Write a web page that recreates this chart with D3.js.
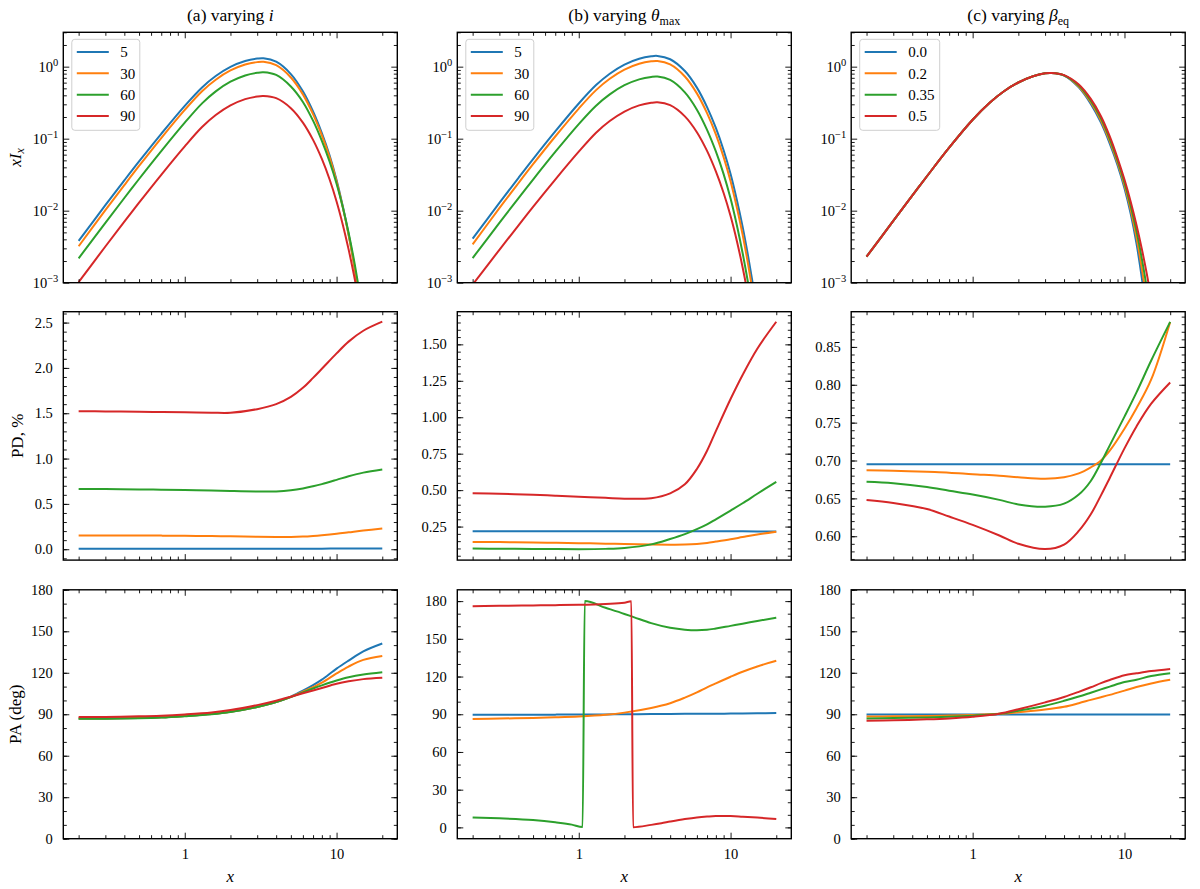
<!DOCTYPE html>
<html>
<head>
<meta charset="utf-8">
<script src="https://cdn.jsdelivr.net/npm/d3@7"></script>
<style>
  body { margin: 0; background: #fff; }
  svg text { font-family: "Liberation Serif", "DejaVu Serif", serif; fill: #000; }
</style>
</head>
<body>
<svg id="fig" width="1200" height="889"></svg>
<script>
var colors = ["#1f77b4", "#ff7f0e", "#2ca02c", "#d62728"];
var labelsA = ["5", "30", "60", "90"];
var labelsB = ["5", "30", "60", "90"];
var labelsC = ["0.0", "0.2", "0.35", "0.5"];

// spectra x I_x
var xSpec = [0.2,0.3,0.4,0.5,0.7,1,1.3,1.6,2,2.5,3,3.3,4,5,6,7,8,9,10,11,12,13,14,15];
var specA5  = [3.80e-3,0.01191,0.02636,0.04831,0.1169,0.2858,0.5152,0.7413,0.9931,1.197,1.294,1.309,1.172,0.7889,0.4539,0.2382,0.1194,0.05848,0.02673,0.0114,4.70e-3,1.88e-3,7.35e-4,2.81e-4];
var specA30 = [3.21e-3,0.01016,0.02265,0.04178,0.1021,0.2512,0.4560,0.6592,0.8851,1.069,1.156,1.169,1.047,0.7079,0.4121,0.2188,0.1109,0.05495,0.02541,0.01102,4.59e-3,1.85e-3,7.24e-4,2.79e-4];
var specA60 = [2.18e-3,6.78e-3,0.0150,0.02754,0.06714,0.1667,0.3090,0.4539,0.6180,0.7551,0.8222,0.8356,0.7674,0.5309,0.3236,0.1778,0.0933,0.04786,0.02371,0.01109,4.95e-3,2.11e-3,8.5e-4,3.4e-4];
var specA90 = [1.02e-3,3.18e-3,7.03e-3,0.01291,0.03148,0.07816,0.1449,0.2128,0.2897,0.3540,0.3855,0.3917,0.3648,0.2649,0.1671,0.0962,0.05224,0.0271,0.01343,6.35e-3,2.90e-3,1.30e-3,5.66e-4,2.42e-4];

var specB5  = [4.09e-3,0.01282,0.02838,0.0520,0.1259,0.3076,0.5546,0.7980,1.069,1.288,1.393,1.409,1.268,0.8690,0.5117,0.2748,0.1409,0.06902,0.03228,0.01409,6.01e-3,2.45e-3,9.75e-4,3.79e-4];
var specB30 = [3.40e-3,0.01084,0.02404,0.04416,0.1072,0.2618,0.4721,0.6792,0.9099,1.096,1.186,1.2,1.076,0.7311,0.4256,0.2259,0.1146,0.05546,0.02564,0.01107,4.67e-3,1.88e-3,7.4e-4,2.88e-4];
var specB60 = [2.20e-3,6.76e-3,0.01486,0.0271,0.06546,0.1596,0.2871,0.4130,0.5534,0.6668,0.7211,0.7295,0.6531,0.4395,0.2529,0.1327,0.06653,0.03221,0.01472,6.28e-3,2.59e-3,1.03e-3,4.01e-4,1.52e-4];
var specB90 = [9.40e-4,2.86e-3,6.22e-3,0.0113,0.02704,0.06592,0.1208,0.1758,0.2382,0.2897,0.3148,0.3199,0.2917,0.2042,0.1230,0.06761,0.03508,0.01758,8.41e-3,3.80e-3,1.64e-3,6.84e-4,2.72e-4,1.06e-4];

var specC00  = [2.30e-3,7.21e-3,0.01614,0.03006,0.07499,0.1832,0.3177,0.4519,0.6026,0.7362,0.8072,0.8166,0.7534,0.5152,0.3034,0.1667,0.0855,0.04285,0.0205,8.95e-3,3.48e-3,1.18e-3,3.56e-4,1.0e-4];
var specC02  = [2.30e-3,7.21e-3,0.01614,0.03006,0.07499,0.1832,0.3177,0.4519,0.6026,0.7362,0.8072,0.8166,0.7568,0.5309,0.3199,0.1786,0.09226,0.04624,0.02249,0.01021,4.26e-3,1.60e-3,5.56e-4,1.82e-4];
var specC035 = [2.30e-3,7.21e-3,0.01614,0.03006,0.07499,0.1832,0.3177,0.4519,0.6026,0.7362,0.8072,0.8166,0.7586,0.5483,0.3373,0.1914,0.09954,0.04989,0.02466,0.01161,5.2e-3,2.18e-3,8.69e-4,3.33e-4];
var specC05  = [2.30e-3,7.21e-3,0.01614,0.03006,0.07499,0.1832,0.3177,0.4519,0.6026,0.7362,0.8072,0.8166,0.7621,0.5649,0.3565,0.2051,0.1076,0.05395,0.02704,0.01324,6.34e-3,2.96e-3,1.36e-3,6.05e-4];

// polarization degree and angle
var xPol = [0.2,0.3,0.5,0.7,1,1.5,2,3,4,5,6,7,8,10,12,15,20];
var pdA5  = [0.005,0.005,0.005,0.005,0.005,0.005,0.005,0.005,0.005,0.005,0.006,0.006,0.006,0.007,0.007,0.008,0.008];
var pdA30 = [0.152,0.152,0.151,0.150,0.148,0.145,0.143,0.138,0.135,0.135,0.139,0.146,0.154,0.170,0.186,0.206,0.228];
var pdA60 = [0.665,0.664,0.660,0.657,0.653,0.647,0.642,0.637,0.638,0.650,0.670,0.694,0.718,0.765,0.805,0.845,0.879];
var pdA90 = [1.522,1.520,1.516,1.513,1.510,1.506,1.505,1.545,1.600,1.680,1.780,1.890,1.990,2.160,2.290,2.410,2.510];

var pdB5  = [0.218,0.218,0.218,0.218,0.218,0.218,0.218,0.218,0.218,0.218,0.218,0.218,0.218,0.218,0.218,0.217,0.217];
var pdB30 = [0.145,0.144,0.141,0.139,0.136,0.133,0.130,0.127,0.126,0.127,0.131,0.138,0.147,0.163,0.178,0.196,0.215];
var pdB60 = [0.099,0.098,0.097,0.096,0.095,0.097,0.103,0.128,0.165,0.198,0.232,0.265,0.300,0.360,0.410,0.475,0.557];
var pdB90 = [0.479,0.475,0.468,0.462,0.455,0.447,0.441,0.445,0.478,0.540,0.645,0.770,0.905,1.125,1.290,1.470,1.655];

var pdC00  = [0.695,0.695,0.695,0.695,0.695,0.695,0.695,0.695,0.695,0.695,0.695,0.695,0.695,0.695,0.695,0.695,0.695];
var pdC02  = [0.687,0.6865,0.685,0.684,0.682,0.680,0.678,0.676,0.678,0.683,0.691,0.700,0.713,0.742,0.769,0.807,0.883];
var pdC035 = [0.672,0.670,0.665,0.660,0.655,0.648,0.642,0.639,0.643,0.655,0.673,0.697,0.720,0.758,0.790,0.832,0.883];
var pdC05  = [0.648,0.644,0.636,0.626,0.615,0.601,0.590,0.583,0.589,0.607,0.629,0.654,0.677,0.716,0.745,0.775,0.803];

var paA5  = [86.9,87.0,87.3,87.8,88.8,90.2,91.8,95.3,98.8,102.8,107.0,111.0,115.0,123.0,128.8,135.5,141.2];
var paA30 = [86.9,87.0,87.3,87.8,88.8,90.2,91.8,95.3,98.8,102.6,106.3,109.6,112.8,119.5,124.5,129.3,132.2];
var paA60 = [86.7,86.8,87.1,87.6,88.6,90.0,91.6,95.2,98.8,102.4,105.8,108.6,110.9,114.4,116.8,118.8,120.4];
var paA90 = [88.0,88.1,88.5,89.0,89.9,91.3,93.0,96.6,99.8,102.7,105.2,107.2,109.0,112.0,113.8,115.4,116.4];

var paB5  = [89.6,89.6,89.7,89.7,89.8,89.9,90.0,90.1,90.2,90.3,90.3,90.4,90.4,90.5,90.6,90.7,90.9];
var paB30 = [86.3,86.6,87.1,87.6,88.3,89.6,91.3,95.0,98.8,103.2,107.4,111.4,114.6,119.8,123.8,128.0,132.5];
var xPaB60 = [0.2,0.3,0.5,0.7,0.9,1.06,1.095,1.5,2,2.3,3,4,5,6,7,8,10,12,15,20];
var paB60  = [7.9,7.2,5.8,4.0,2.2,0.3,180,174.7,169.8,167.3,162.5,158.8,157.3,156.9,157.2,158.2,160.3,162.0,164.2,166.8];
var xPaB90 = [0.2,0.3,0.5,0.7,1,1.5,2,2.22,2.28,3,3.5,4,5,6,7,8,10,12,15,20];
var paB90  = [176.0,176.3,176.6,176.8,177.1,177.8,178.7,179.8,0.2,2.0,3.3,4.6,6.6,7.9,8.6,9.0,9.0,8.5,7.8,6.6];

var paC00  = [89.9,89.9,89.9,89.9,89.9,89.9,89.9,89.9,89.9,89.9,89.9,89.9,89.9,89.9,89.9,89.9,89.9];
var paC02  = [88.4,88.5,88.8,89.1,89.5,90.3,91.5,93.4,95.4,98.0,100.4,102.3,104.0,107.1,109.7,112.3,114.9];
var paC035 = [87.0,87.2,87.7,88.2,89.0,90.4,92.6,96.2,99.7,102.8,105.6,108.0,110.0,113.3,115.0,117.6,119.7];
var paC05  = [85.3,85.6,86.3,87.0,88.2,90.4,93.6,98.6,102.5,106.2,109.5,112.5,114.8,118.2,119.6,121.2,122.8];

// tick values
var xMajor = [1, 10];
var pdTicksA = [0.0, 0.5, 1.0, 1.5, 2.0, 2.5];
var pdTicksB = [0.25, 0.50, 0.75, 1.00, 1.25, 1.50];
var pdTicksC = [0.60, 0.65, 0.70, 0.75, 0.80, 0.85];
var paTicks = [0, 30, 60, 90, 120, 150, 180];
var specTicks = [1e-3, 1e-2, 1e-1, 1];

var SERIF = '"Liberation Serif", "DejaVu Serif", serif';
var svg = d3.select("#fig");
svg.append("rect").attr("width", 1200).attr("height", 889).attr("fill", "#fff");

var colLeft = [63.3, 457.3, 851.2];
var PW = 334;
var rowTop = [32.3, 311.7, 589.8];
var rowH = [250.4, 248.4, 248.9];
var X_DOMAIN = [Math.pow(10, -0.8), Math.pow(10, 1.4)];

function xMinor() {
  var out = [];
  [0.1, 1, 10].forEach(function(p) {
    for (var k = 2; k <= 9; k++) {
      var v = k * p;
      if (v > X_DOMAIN[0] && v < X_DOMAIN[1]) out.push(v);
    }
  });
  return out;
}

function linMinor(domain, step) {
  var out = [];
  var start = Math.ceil(domain[0] / step - 1e-9);
  for (var i = start; i * step <= domain[1] + 1e-9; i++) out.push(+(i * step).toFixed(6));
  return out;
}

function styleAxis(sel) {
  sel.select(".domain").remove();
  sel.attr("font-family", SERIF).attr("font-size", 14.5).style("color", "#000");
  sel.selectAll(".tick line").attr("stroke-width", 0.9);
}

function drawPanel(cfg) {
  var w = PW, h = rowH[cfg.row];
  var g = svg.append("g").attr("transform", `translate(${colLeft[cfg.col]}, ${rowTop[cfg.row]})`);

  var x = d3.scaleLog().domain(X_DOMAIN).range([0, w]);
  var y = (cfg.logY ? d3.scaleLog() : d3.scaleLinear()).domain(cfg.yDomain).range([h, 0]);

  var clipId = `clip-${cfg.row}-${cfg.col}`;
  g.append("clipPath").attr("id", clipId)
    .append("rect").attr("width", w).attr("height", h);

  var lines = g.append("g").attr("clip-path", `url(#${clipId})`);
  cfg.series.forEach(function(s, i) {
    var line = d3.line()
      .x(function(d) { return x(d[0]); })
      .y(function(d) { return y(d[1]); })
      .curve(s.jump ? d3.curveMonotoneX : d3.curveCatmullRom.alpha(0.5));
    var pts = s.x.map(function(v, j) { return [v, s.y[j]]; });
    lines.append("path")
      .attr("d", line(pts))
      .attr("fill", "none")
      .attr("stroke", colors[i])
      .attr("stroke-width", 2)
      .attr("stroke-linejoin", "round");
  });

  // x ticks, bottom + top, pointing in
  var showX = cfg.row === 2;
  g.append("g").attr("transform", `translate(0, ${h})`)
    .call(d3.axisBottom(x).tickValues(xMajor).tickSize(-6).tickPadding(10)
      .tickFormat(showX ? d3.format("d") : function() { return ""; }))
    .call(styleAxis);
  g.append("g").attr("transform", `translate(0, ${h})`)
    .call(d3.axisBottom(x).tickValues(xMinor()).tickSize(-3.5).tickFormat(""))
    .call(styleAxis);
  g.append("g")
    .call(d3.axisTop(x).tickValues(xMajor).tickSize(-6).tickFormat(""))
    .call(styleAxis);
  g.append("g")
    .call(d3.axisTop(x).tickValues(xMinor()).tickSize(-3.5).tickFormat(""))
    .call(styleAxis);

  // y ticks, left + right
  var left = g.append("g")
    .call(d3.axisLeft(y).tickValues(cfg.yTicks).tickSize(-6)
      .tickPadding(cfg.logY ? 5 : 10.5).tickFormat(cfg.logY ? function() { return ""; } : cfg.fmt))
    .call(styleAxis);
  if (cfg.logY) {
    left.selectAll(".tick text").each(function(d) {
      var e = Math.round(Math.log10(d));
      var t = d3.select(this).text(null);
      t.append("tspan").text("10");
      t.append("tspan").attr("dy", "-0.55em").attr("font-size", 10.5)
        .text(e === 0 ? "0" : "\u2212" + (-e));
    });
  }
  g.append("g").call(d3.axisLeft(y).tickValues(cfg.yMinor).tickSize(-3.5).tickFormat("")).call(styleAxis);
  g.append("g").attr("transform", `translate(${w}, 0)`)
    .call(d3.axisRight(y).tickValues(cfg.yTicks).tickSize(-6).tickFormat(""))
    .call(styleAxis);
  g.append("g").attr("transform", `translate(${w}, 0)`)
    .call(d3.axisRight(y).tickValues(cfg.yMinor).tickSize(-3.5).tickFormat(""))
    .call(styleAxis);

  // frame
  g.append("rect").attr("width", w).attr("height", h)
    .attr("fill", "none").attr("stroke", "#000").attr("stroke-width", 1.4);

  if (showX) {
    g.append("text")
      .attr("x", w / 2).attr("y", h + 43)
      .attr("text-anchor", "middle")
      .attr("font-size", 17).attr("font-style", "italic")
      .text("x");
  }

  if (cfg.legend) {
    var lw = cfg.legendW;
    var leg = g.append("g").attr("transform", "translate(8.5, 7)");
    leg.append("rect").attr("width", lw).attr("height", 91).attr("rx", 3)
      .attr("fill", "#fff").attr("fill-opacity", 0.8)
      .attr("stroke", "#cfcfcf").attr("stroke-width", 1);
    cfg.legend.forEach(function(lab, i) {
      var yy = 12.6 + i * 21.4;
      leg.append("line").attr("x1", 5).attr("x2", 37).attr("y1", yy).attr("y2", yy)
        .attr("stroke", colors[i]).attr("stroke-width", 2);
      leg.append("text").attr("x", 48.5).attr("y", yy + 5.3)
        .attr("font-size", 15).text(lab);
    });
  }
  return g;
}

function ser(xs, arrs) {
  return arrs.map(function(a) { return { x: xs, y: a }; });
}

var logMinor = [];
[1e-3, 1e-2, 1e-1, 1].forEach(function(p) {
  for (var k = 2; k <= 9; k++) if (k * p <= 3.0) logMinor.push(k * p);
});

var specDomain = [1e-3, 3.0];

// row 0: spectra
drawPanel({ row: 0, col: 0, logY: true, yDomain: specDomain, yTicks: specTicks, yMinor: logMinor,
  series: ser(xSpec, [specA5, specA30, specA60, specA90]), legend: labelsA, legendW: 68 });
drawPanel({ row: 0, col: 1, logY: true, yDomain: specDomain, yTicks: specTicks, yMinor: logMinor,
  series: ser(xSpec, [specB5, specB30, specB60, specB90]), legend: labelsB, legendW: 68 });
drawPanel({ row: 0, col: 2, logY: true, yDomain: specDomain, yTicks: specTicks, yMinor: logMinor,
  series: ser(xSpec, [specC00, specC02, specC035, specC05]), legend: labelsC, legendW: 80 });

// row 1: PD
var pdDomA = [-0.12, 2.62], pdDomB = [0.02, 1.724], pdDomC = [0.5685, 0.8965];
drawPanel({ row: 1, col: 0, yDomain: pdDomA, yTicks: pdTicksA, yMinor: linMinor(pdDomA, 0.1), fmt: d3.format(".1f"),
  series: ser(xPol, [pdA5, pdA30, pdA60, pdA90]) });
drawPanel({ row: 1, col: 1, yDomain: pdDomB, yTicks: pdTicksB, yMinor: linMinor(pdDomB, 0.05), fmt: d3.format(".2f"),
  series: ser(xPol, [pdB5, pdB30, pdB60, pdB90]) });
drawPanel({ row: 1, col: 2, yDomain: pdDomC, yTicks: pdTicksC, yMinor: linMinor(pdDomC, 0.01), fmt: d3.format(".2f"),
  series: ser(xPol, [pdC00, pdC02, pdC035, pdC05]) });

// row 2: PA
drawPanel({ row: 2, col: 0, yDomain: [0, 180], yTicks: paTicks, yMinor: linMinor([0, 180], 10), fmt: d3.format("d"),
  series: ser(xPol, [paA5, paA30, paA60, paA90]) });
drawPanel({ row: 2, col: 1, yDomain: [-9, 189], yTicks: paTicks, yMinor: linMinor([-9, 189], 10), fmt: d3.format("d"),
  series: [{ x: xPol, y: paB5 }, { x: xPol, y: paB30 },
           { x: xPaB60, y: paB60, jump: true }, { x: xPaB90, y: paB90, jump: true }] });
drawPanel({ row: 2, col: 2, yDomain: [0, 180], yTicks: paTicks, yMinor: linMinor([0, 180], 10), fmt: d3.format("d"),
  series: ser(xPol, [paC00, paC02, paC035, paC05]) });

// titles
var titles = [
  { pre: "(a) varying ", sym: "i", sub: null },
  { pre: "(b) varying ", sym: "\u03b8", sub: "max" },
  { pre: "(c) varying ", sym: "\u03b2", sub: "eq" }
];
titles.forEach(function(t, i) {
  var tx = svg.append("text")
    .attr("x", colLeft[i] + PW / 2).attr("y", 21)
    .attr("text-anchor", "middle").attr("font-size", 17.5);
  tx.append("tspan").text(t.pre);
  tx.append("tspan").attr("font-style", "italic").text(t.sym);
  if (t.sub) tx.append("tspan").attr("font-size", 12).attr("dy", 3.5).text(t.sub);
});

// y labels
var yl0 = svg.append("text")
  .attr("transform", `translate(21, ${rowTop[0] + rowH[0] / 2}) rotate(-90)`)
  .attr("text-anchor", "middle").attr("font-size", 17);
yl0.append("tspan").attr("font-style", "italic").text("xI");
yl0.append("tspan").attr("font-style", "italic").attr("font-size", 12).attr("dy", 3).text("x");

svg.append("text")
  .attr("transform", `translate(23, ${rowTop[1] + rowH[1] / 2}) rotate(-90)`)
  .attr("text-anchor", "middle").attr("font-size", 17)
  .text("PD, %");

svg.append("text")
  .attr("transform", `translate(21, ${rowTop[2] + rowH[2] / 2}) rotate(-90)`)
  .attr("text-anchor", "middle").attr("font-size", 17)
  .text("PA (deg)");

// force the serif face on every label
svg.selectAll("text").style("font-family", SERIF);
</script>
</body>
</html>
